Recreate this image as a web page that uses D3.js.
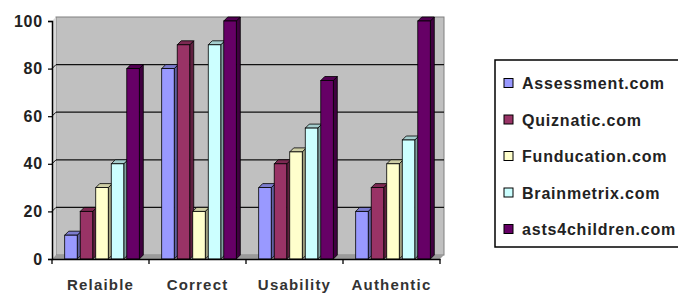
<!DOCTYPE html>
<html><head><meta charset="utf-8">
<script src="https://cdn.jsdelivr.net/npm/d3@7"></script>
<style>html,body{margin:0;padding:0;background:#fff;}svg{display:block;}</style>
</head><body>
<svg id="c" width="678" height="293"></svg>
<script>
const categories = ["Relaible", "Correct", "Usability", "Authentic"];
const seriesNames = ["Assessment.com", "Quiznatic.com", "Funducation.com", "Brainmetrix.com", "asts4children.com"];
const assessment = [10, 80, 30, 20];
const quiznatic = [20, 90, 40, 30];
const funducation = [30, 20, 45, 40];
const brainmetrix = [40, 90, 55, 50];
const tests4children = [80, 100, 75, 100];
const yTicks = [0, 20, 40, 60, 80, 100];
const colors = ["#9999FF", "#993366", "#FFFFCC", "#CCFFFF", "#660066"];

(function () {
const series = [assessment, quiznatic, funducation, brainmetrix, tests4children];
const svg = d3.select("#c");
const pLeft = 52, pRight = 440, pTop = 21, pBottom = 259, d = 4;
const font = "Liberation Sans, Arial, sans-serif";

const y = d3.scaleLinear().domain([0, 100]).range([pBottom, pTop]);
const x0 = d3.scaleBand().domain(categories).range([pLeft, pRight]).paddingInner(0.2).paddingOuter(0.1);
const x1 = d3.scaleBand().domain(d3.range(seriesNames.length)).range([0, x0.bandwidth()]).padding(0);

// back wall
svg.append("rect").attr("x", pLeft + d).attr("y", pTop - d).attr("width", pRight - pLeft)
  .attr("height", pBottom - pTop).attr("fill", "#C0C0C0").attr("stroke", "#808080").attr("stroke-width", 1);
// side wall
svg.append("polygon").attr("points", `${pLeft},${pTop} ${pLeft+d},${pTop-d} ${pLeft+d},${pBottom-d} ${pLeft},${pBottom}`)
  .attr("fill", "#d8d8d8");
// floor
svg.append("polygon").attr("points", `${pLeft},${pBottom} ${pLeft+d},${pBottom-d} ${pRight+d},${pBottom-d} ${pRight},${pBottom}`)
  .attr("fill", "#9a9a9a");

const inner = yTicks.filter(v => v > 0 && v < 100);
svg.selectAll(".grid").data(inner).enter().append("line")
  .attr("x1", pLeft + d).attr("x2", pRight + d)
  .attr("y1", v => y(v) - d).attr("y2", v => y(v) - d)
  .attr("stroke", "#111").attr("stroke-width", 1.3);
svg.selectAll(".gridd").data(inner).enter().append("line")
  .attr("x1", pLeft).attr("x2", pLeft + d)
  .attr("y1", v => y(v)).attr("y2", v => y(v) - d)
  .attr("stroke", "#111").attr("stroke-width", 1);

// bars
const bw = x1.bandwidth() - 3;
categories.forEach((cat, ci) => {
  series.forEach((s, si) => {
    const v = s[ci];
    const bx = x0(cat) + x1(si) + 3;
    const by = y(v);
    const c = d3.color(colors[si]);
    const g = svg.append("g");
    g.append("polygon")
      .attr("points", `${bx+bw},${by} ${bx+bw+d},${by-d} ${bx+bw+d},${pBottom-d} ${bx+bw},${pBottom}`)
      .attr("fill", c.darker(1.3)).attr("stroke", "#000").attr("stroke-width", 0.8);
    g.append("polygon")
      .attr("points", `${bx},${by} ${bx+d},${by-d} ${bx+bw+d},${by-d} ${bx+bw},${by}`)
      .attr("fill", c.darker(0.6)).attr("stroke", "#000").attr("stroke-width", 0.8);
    g.append("rect").attr("x", bx).attr("y", by).attr("width", bw).attr("height", pBottom - by)
      .attr("fill", colors[si]).attr("stroke", "#000").attr("stroke-width", 0.8);
  });
});

// axes
const ya = svg.append("g").attr("transform", `translate(${pLeft},0)`)
  .call(d3.axisLeft(y).tickValues(yTicks).tickSize(4).tickPadding(5));
ya.select(".domain").attr("stroke", "#000").attr("stroke-width", 1.5);
ya.selectAll(".tick line").attr("stroke", "#000").attr("stroke-width", 1.2);
ya.selectAll(".tick text").attr("font-family", font)
  .attr("font-size", 16).attr("font-weight", "bold").attr("fill", "#222").style("letter-spacing", "0.8px");

const xa = svg.append("g").attr("transform", `translate(0,${pBottom})`)
  .call(d3.axisBottom(x0).tickSize(0).tickPadding(20));
xa.select(".domain").attr("stroke", "#000").attr("stroke-width", 1.5);
xa.selectAll(".tick text").attr("font-family", font)
  .attr("font-size", 15).attr("font-weight", "bold").attr("fill", "#333").style("letter-spacing", "1.2px");
const sep = categories.map(c => x0(c) - x0.step() * x0.paddingOuter()).concat([pRight]);
svg.selectAll(".sep").data(sep).enter().append("line")
  .attr("x1", v => v).attr("x2", v => v).attr("y1", pBottom).attr("y2", pBottom + 5)
  .attr("stroke", "#000").attr("stroke-width", 1.3);

// legend
const lg = svg.append("g");
lg.append("rect").attr("x", 495).attr("y", 60).attr("width", 200).attr("height", 187)
  .attr("fill", "#fff").attr("stroke", "#000").attr("stroke-width", 1.5);
const ly = d3.scalePoint().domain(seriesNames).range([83, 229]);
seriesNames.forEach((n, i) => {
  lg.append("rect").attr("x", 504).attr("y", ly(n) - 4.5).attr("width", 9).attr("height", 9)
    .attr("fill", colors[i]).attr("stroke", "#000").attr("stroke-width", 1);
  lg.append("text").attr("x", 522).attr("y", ly(n) + 6).text(n)
    .attr("font-family", font).attr("font-size", 16)
    .attr("font-weight", "bold").attr("fill", "#222").style("letter-spacing", "0.8px");
});
})();
</script>
</body></html>
